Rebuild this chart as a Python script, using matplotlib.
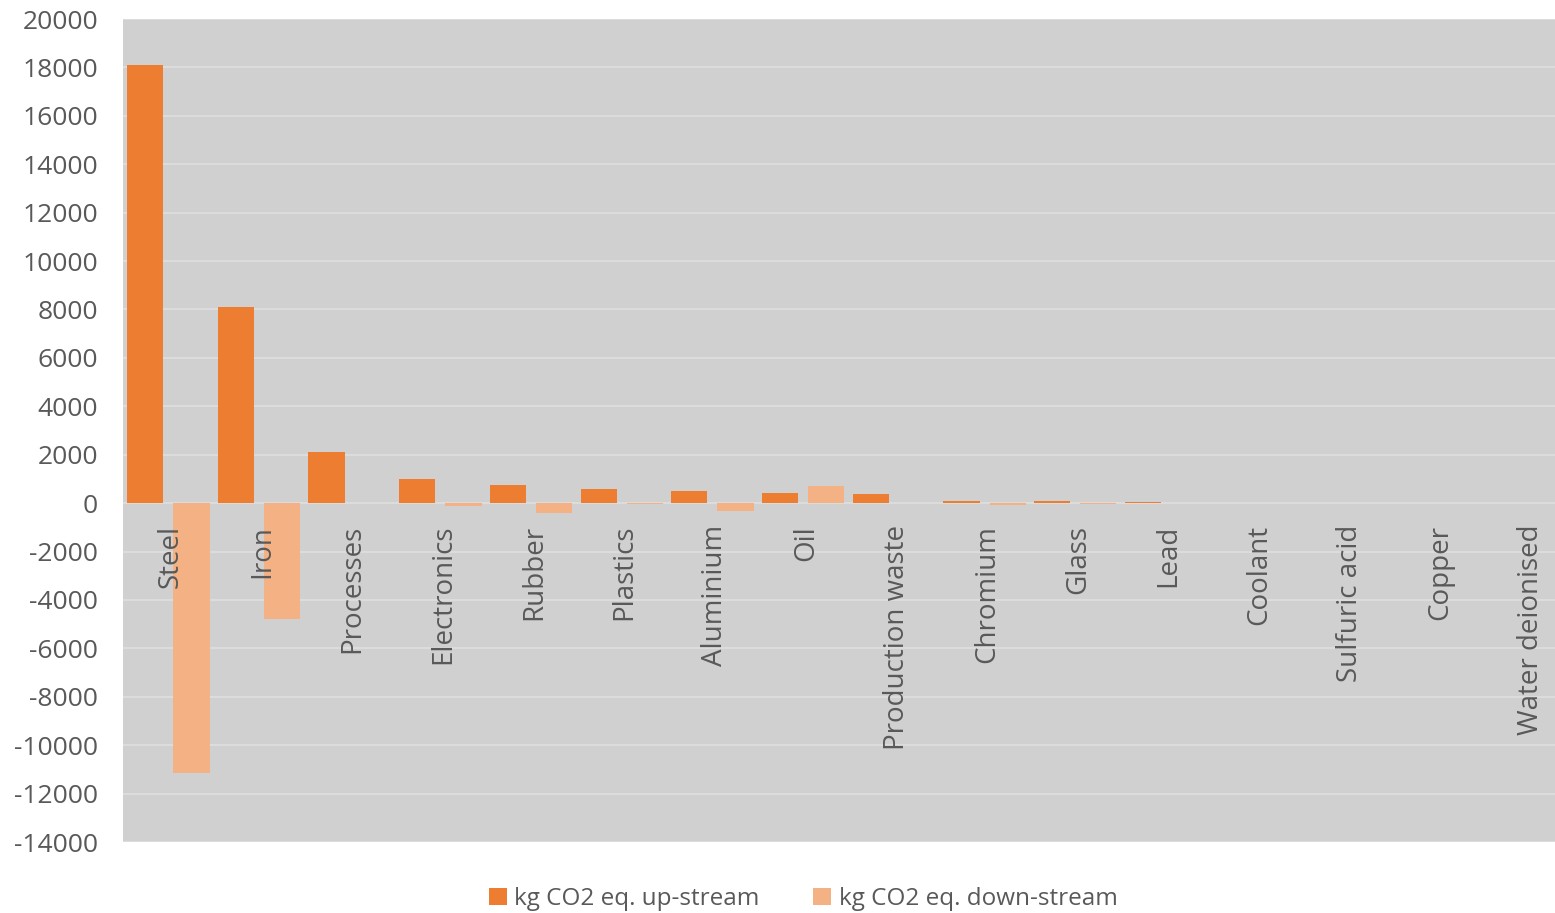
import matplotlib
matplotlib.use("Agg")
import matplotlib.pyplot as plt
import numpy as np

# ── Data ──────────────────────────────────────────────────────────────────────
categories = ["Steel", "Iron", "Processes", "Electronics", "Rubber", "Plastics",
              "Aluminium", "Oil", "Production waste", "Chromium", "Glass", "Lead",
              "Coolant", "Sulfuric acid", "Copper", "Water deionised"]
up_stream = [18100, 8100, 2100, 990, 730, 580, 500, 420, 370, 80, 70, 30, 0, 0, 0, 0]
down_stream = [-11150, -4800, 0, -100, -400, -20, -320, 690, 0, -60, -20, 0, 0, 0, 0, 0]
y_ticks = list(range(-14000, 20001, 2000))

UP_COL = "#ED7D31"
DOWN_COL = "#F4B183"
TXT_COL = "#595959"

plt.rcParams["font.family"] = ["Open Sans", "DejaVu Sans"]
plt.rcParams["axes.unicode_minus"] = False

W, H = 1555, 913
fig = plt.figure(figsize=(W / 100, H / 100), dpi=100)
fig.patch.set_facecolor("white")

# plot area runs a bit past the right edge of the image, like the original
left, right, top, bottom = 123, 1574, 19, 842
ax = fig.add_axes([left / W, 1 - bottom / H, (right - left) / W, (bottom - top) / H])
ax.set_facecolor("#D0D0D0")

x = np.arange(len(categories))
bw = 0.40
off = 0.255
ax.bar(x - off, up_stream, width=bw, color=UP_COL, zorder=3,
       label="kg CO2 eq. up-stream")
ax.bar(x + off, down_stream, width=bw, color=DOWN_COL, zorder=3,
       label="kg CO2 eq. down-stream")

ax.set_xlim(-0.5, len(categories) - 0.5)
ax.set_ylim(-14000, 20000)
ax.set_yticks(y_ticks)
ax.set_yticklabels([str(v) for v in y_ticks])
ax.set_xticks([])
ax.tick_params(axis="y", length=0, pad=18, labelsize=19, labelcolor=TXT_COL)
ax.grid(axis="y", color="#DCDCDC", linewidth=1.5, zorder=1)
for s in ax.spines.values():
    s.set_visible(False)

# category names sit inside the plot, just under the zero line
for i, name in enumerate(categories):
    ax.text(i + 0.03, -900, name, rotation=90, ha="center", va="top",
            fontsize=20, color=TXT_COL, zorder=4)

fig.legend(loc="center", bbox_to_anchor=(803 / W, 1 - 899 / H), ncol=2,
           frameon=False, fontsize=17.5, labelcolor=TXT_COL,
           handlelength=0.75, handleheight=0.75, handletextpad=0.3,
           columnspacing=2.2)

fig.savefig("out.png", dpi=100, facecolor="white")
